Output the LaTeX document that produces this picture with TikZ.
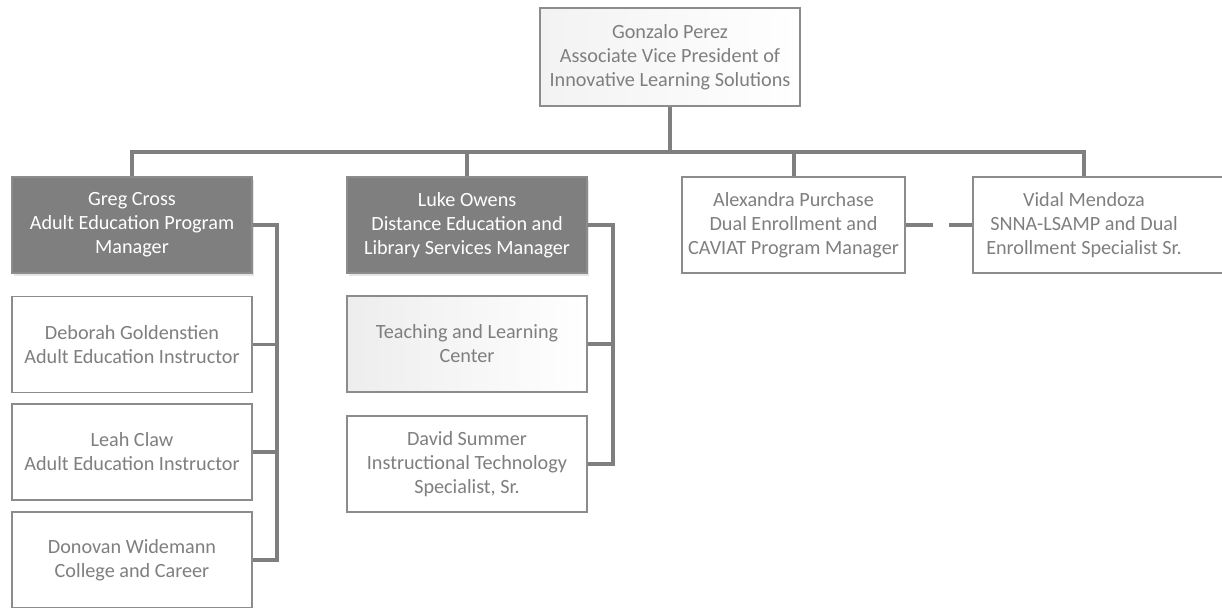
\documentclass[tikz,border=0pt]{standalone}
\usepackage{fontspec}
\setmainfont{Carlito}
\usetikzlibrary{shadows}
\definecolor{linegray}{HTML}{7F7F7F}
\definecolor{boxgray}{HTML}{8C8C8C}
\definecolor{textgray}{HTML}{7F7F7F}
\tikzstyle{base} = [rectangle, draw=boxgray, line width=1.6pt, align=center, text centered, font=\fontsize{20.2}{24}\selectfont, inner sep=0pt]
\tikzstyle{topbox} = [base, minimum width=260pt, minimum height=98pt, left color=gray!10, right color=white, text=textgray]
\tikzstyle{manager} = [base, minimum width=240pt, minimum height=96pt, fill=linegray, text=white, drop shadow={shadow xshift=1.5pt, shadow yshift=-2.5pt, opacity=0.2}]
\tikzstyle{member} = [base, minimum width=240pt, minimum height=96pt, fill=white, text=textgray]
\tikzstyle{shaded} = [member, left color=gray!14, right color=white]
\tikzstyle{conn} = [draw=linegray, line width=4pt]
\tikzstyle{side} = [draw=linegray, line width=3.5pt]

\begin{document}
\begin{tikzpicture}[x=1pt, y=-1pt]
        \useasboundingbox (0,0) rectangle (1222,607);
        % top level
        \node (gp) [topbox] at (670,57) {Gonzalo Perez\\Associate Vice President of\\Innovative Learning Solutions};
        % second level
        \node (gc) [manager] at (132,225) {Greg Cross\\Adult Education Program\\Manager};
        \node (lo) [manager] at (467,225) {Luke Owens\\Distance Education and\\Library Services Manager};
        \node (ap) [member, minimum width=223pt] at (793.5,225) {Alexandra Purchase\\Dual Enrollment and\\CAVIAT Program Manager};
        \node (vm) [member, minimum width=263pt, anchor=west] at (972,225) {};
        \node (vmtext) [base, draw=none, text=textgray] at (1084,225) {Vidal Mendoza\\SNNA-LSAMP and Dual\\Enrollment Specialist Sr.};
        % staff under Greg Cross
        \node (db) [member] at (132,344.5) {Deborah Goldenstien\\Adult Education Instructor};
        \node (lc) [member] at (132,452) {Leah Claw\\Adult Education Instructor};
        \node (dw) [member] at (132,560) {Donovan Widemann\\College and Career};
        % staff under Luke Owens
        \node (tlc) [shaded] at (467,344) {Teaching and Learning\\Center};
        \node (ds) [member] at (467,464) {David Summer\\Instructional Technology\\Specialist, Sr.};
        % bus line
        \coordinate (busR) at (1084,152);
        \draw [conn] (gc.north) |- (busR) -- (busR |- vm.north);
        \draw [conn] (gp.south) -- (gp.south |- busR);
        \draw [conn] (lo.north |- busR) -- (lo.north);
        \draw [conn] (ap.north |- busR) -- (ap.north);
        \draw [conn, dash pattern=on 27pt off 16pt] (ap.east) -- (vm.west);
        % side connectors
        \draw [side] (gc.east) -- ++(24,0) |- (db.east);
        \draw [side] (gc.east) -- ++(24,0) |- (lc.east);
        \draw [side] (gc.east) -- ++(24,0) |- (dw.east);
        \draw [side] (lo.east) -- ++(25,0) |- (tlc.east);
        \draw [side] (lo.east) -- ++(25,0) |- (ds.east);
    \end{tikzpicture}
\end{document}
